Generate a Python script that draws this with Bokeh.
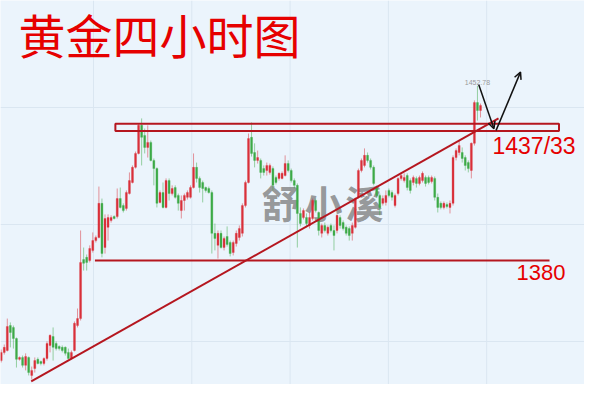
import numpy as np
from bokeh.plotting import figure
from bokeh.models import Range1d, Span, Label, Arrow, OpenHead, ColumnDataSource
from bokeh.embed import file_html
from bokeh.resources import INLINE

# ---- candle data (gold, 4h) ----
opens = [
    1338.3, 1341.7, 1342.5, 1352.9, 1352.1, 1347.5, 1338.8, 1339.6, 1336.3, 1339.6,
    1332.1, 1335.0, 1338.8, 1337.9, 1337.1, 1339.2, 1344.6, 1348.3, 1345.4, 1344.2,
    1343.8, 1343.8, 1341.7, 1339.2, 1342.5, 1352.9, 1355.8, 1380.4, 1381.3, 1380.0,
    1384.2, 1388.3, 1389.6, 1403.8, 1385.4, 1393.8, 1396.7, 1398.3, 1398.3, 1405.8,
    1402.9, 1401.7, 1407.9, 1412.5, 1418.8, 1424.6, 1436.3, 1432.1, 1427.1, 1429.2,
    1421.7, 1418.3, 1404.2, 1408.3, 1402.1, 1413.3, 1407.9, 1410.4, 1407.1, 1400.8,
    1405.0, 1406.3, 1406.3, 1410.4, 1418.8, 1414.2, 1412.5, 1410.4, 1410.0, 1408.3,
    1391.3, 1386.3, 1391.3, 1385.4, 1390.0, 1387.5, 1383.3, 1387.1, 1389.6, 1391.3,
    1402.9, 1412.5, 1431.3, 1425.0, 1421.7, 1421.7, 1418.3,
    1417.5, 1416.7, 1418.3, 1414.6, 1414.2, 1414.2, 1415.4, 1420.4, 1417.5, 1413.3,
    1411.3, 1399.6, 1397.9, 1397.9, 1394.6, 1397.5, 1405.0,
    1400.0, 1391.3, 1394.6, 1391.3, 1394.6, 1392.5, 1392.5, 1397.9, 1395.8, 1393.8,
    1393.3, 1391.3, 1393.8, 1406.3, 1417.5, 1419.6, 1423.8,
    1421.7, 1418.8, 1410.4, 1407.1, 1403.8, 1404.2, 1409.2, 1408.3, 1402.9, 1407.9,
    1414.2, 1413.3, 1415.4, 1413.3, 1412.5, 1414.2, 1412.1, 1413.3, 1414.6, 1414.6,
    1412.9, 1414.2, 1406.3, 1403.8, 1402.1, 1403.3, 1402.1, 1403.8, 1422.9, 1425.0,
    1425.0, 1422.9, 1420.8, 1417.5, 1428.8, 1445.8, 1442.5,
]
highs = [
    1342.9, 1345.0, 1355.8, 1354.2, 1352.9, 1347.9, 1340.0, 1340.4, 1341.3, 1340.0,
    1335.8, 1339.6, 1339.6, 1338.3, 1339.6, 1346.3, 1349.2, 1352.1, 1346.3, 1344.6,
    1344.6, 1344.2, 1343.3, 1342.5, 1354.6, 1360.0, 1392.5, 1385.4, 1382.5, 1386.3,
    1391.7, 1390.4, 1410.8, 1405.8, 1399.2, 1399.2, 1398.8, 1398.8, 1410.0, 1410.4,
    1403.8, 1409.2, 1416.7, 1419.6, 1425.4, 1437.0, 1439.2, 1435.0, 1436.3, 1430.0,
    1422.5, 1418.8, 1409.2, 1412.5, 1414.2, 1414.2, 1411.3, 1411.3, 1407.9, 1407.1,
    1407.9, 1409.2, 1411.3, 1424.6, 1420.8, 1415.0, 1413.3, 1410.8, 1410.8, 1409.2,
    1395.4, 1392.5, 1392.5, 1390.0, 1394.2, 1388.3, 1388.3, 1392.5, 1394.6, 1403.8,
    1413.3, 1432.9, 1437.5, 1428.8, 1425.8, 1422.5, 1419.6,
    1420.8, 1420.4, 1419.2, 1415.4, 1416.7, 1417.1, 1423.8, 1421.7, 1418.3, 1414.2,
    1412.1, 1402.1, 1401.7, 1399.6, 1400.0, 1405.8, 1405.8,
    1400.4, 1395.4, 1395.8, 1394.6, 1395.4, 1394.6, 1399.2, 1398.8, 1396.7, 1394.6,
    1394.2, 1395.8, 1406.3, 1418.3, 1422.5, 1426.7, 1425.0,
    1422.5, 1419.6, 1411.3, 1407.9, 1407.1, 1409.2, 1410.0, 1409.2, 1407.9, 1414.6,
    1416.7, 1416.3, 1416.3, 1414.2, 1415.4, 1415.0, 1415.4, 1417.1, 1415.4, 1415.4,
    1415.4, 1415.0, 1407.9, 1404.6, 1404.6, 1404.2, 1405.0, 1423.8, 1426.7, 1430.0,
    1427.1, 1423.8, 1421.7, 1429.2, 1446.7, 1452.78, 1445.4,
]
lows = [
    1337.5, 1340.8, 1342.1, 1343.8, 1343.3, 1335.4, 1338.3, 1335.4, 1334.2, 1332.1,
    1330.4, 1333.3, 1336.7, 1336.3, 1336.3, 1338.3, 1341.7, 1338.3, 1342.5, 1342.5,
    1341.7, 1340.4, 1338.8, 1338.8, 1342.1, 1352.1, 1355.0, 1375.8, 1375.8, 1379.2,
    1383.3, 1387.5, 1389.2, 1381.3, 1382.9, 1388.3, 1395.8, 1397.1, 1397.5, 1401.7,
    1400.0, 1400.8, 1407.5, 1412.1, 1418.3, 1424.2, 1419.6, 1424.6, 1422.9, 1421.3,
    1411.3, 1402.1, 1403.8, 1401.7, 1401.7, 1405.0, 1407.1, 1405.8, 1400.8, 1397.5,
    1400.8, 1405.4, 1405.8, 1410.0, 1412.5, 1408.3, 1404.2, 1408.3, 1407.9, 1382.9,
    1384.2, 1380.8, 1385.0, 1384.2, 1385.8, 1381.7, 1382.1, 1385.8, 1388.3, 1390.0,
    1402.1, 1412.1, 1423.3, 1418.8, 1420.4, 1414.2, 1415.4,
    1415.4, 1415.8, 1409.2, 1411.7, 1413.3, 1413.8, 1415.0, 1416.7, 1412.5, 1410.0,
    1385.4, 1394.2, 1397.1, 1393.8, 1393.3, 1396.7, 1400.0,
    1390.4, 1389.6, 1391.7, 1390.4, 1391.7, 1384.2, 1391.3, 1393.3, 1392.5, 1390.4,
    1388.3, 1388.3, 1393.3, 1405.8, 1416.7, 1418.8, 1420.8,
    1417.9, 1411.3, 1406.3, 1398.8, 1402.9, 1402.9, 1406.3, 1405.0, 1402.1, 1407.1,
    1413.3, 1412.5, 1409.2, 1407.9, 1411.3, 1410.4, 1411.3, 1412.5, 1410.8, 1411.7,
    1412.1, 1405.0, 1400.0, 1401.3, 1401.3, 1401.7, 1399.6, 1402.9, 1421.7, 1423.8,
    1420.8, 1417.5, 1416.7, 1414.2, 1427.9, 1438.3, 1439.6,
]
closes = [
    1341.7, 1343.8, 1352.5, 1350.0, 1347.5, 1338.8, 1339.6, 1336.3, 1340.0, 1333.3,
    1334.2, 1338.3, 1337.1, 1337.1, 1339.2, 1345.4, 1348.8, 1343.8, 1343.3, 1343.3,
    1342.5, 1341.3, 1339.2, 1341.7, 1353.8, 1355.8, 1379.2, 1378.8, 1379.2, 1385.0,
    1388.3, 1389.6, 1403.8, 1382.9, 1397.5, 1397.9, 1397.9, 1397.5, 1405.8, 1402.1,
    1400.8, 1408.3, 1413.3, 1418.8, 1424.6, 1436.3, 1431.3, 1427.1, 1429.2, 1421.7,
    1418.3, 1403.8, 1408.3, 1402.1, 1413.3, 1407.9, 1410.0, 1406.3, 1403.8, 1405.0,
    1407.1, 1408.3, 1410.4, 1418.8, 1414.2, 1410.4, 1410.0, 1409.2, 1408.3, 1391.3,
    1389.2, 1391.3, 1385.4, 1389.2, 1386.7, 1382.9, 1387.5, 1391.3, 1393.3, 1402.9,
    1412.5, 1430.8, 1424.6, 1421.7, 1422.9, 1416.7, 1416.7,
    1419.6, 1419.6, 1411.3, 1412.5, 1416.3, 1416.3, 1420.4, 1417.5, 1413.3, 1411.3,
    1399.6, 1395.4, 1400.8, 1395.4, 1397.9, 1405.0, 1400.8,
    1392.5, 1394.6, 1392.5, 1393.8, 1392.5, 1390.4, 1398.8, 1394.6, 1393.3, 1391.3,
    1390.4, 1394.6, 1405.8, 1417.5, 1421.7, 1423.8, 1421.7,
    1418.8, 1412.1, 1407.1, 1402.1, 1405.8, 1407.1, 1407.1, 1406.3, 1407.1, 1414.2,
    1415.4, 1414.6, 1410.4, 1409.2, 1414.6, 1412.1, 1414.6, 1416.3, 1412.1, 1412.5,
    1414.6, 1406.3, 1402.1, 1402.1, 1403.8, 1402.5, 1403.8, 1422.9, 1425.8, 1427.9,
    1422.5, 1419.6, 1418.3, 1428.8, 1445.8, 1442.5, 1444.6,
]

# ---- drawn analysis (price levels / bar indices) ----
zone_top, zone_bottom = 1437.0, 1434.0
zone_x = [37.4, 182.7]
support_level = 1380.0
support_x = [30.7, 179.6]
trend_x = [9.83, 162.9]
trend_y = [1329.6, 1439.2]
arrow_down = [156.4, 1453.3, 161.4, 1434.9]
arrow_up = [162.1, 1434.2, 170.1, 1458.5]
peak_idx, peak_price = 156, 1452.78
grid_x = [30.23, 62.43, 94.62, 126.82, 159.02, 191.22]
grid_y = [1443.75, 1395.0, 1346.25]

n = len(opens)
idx = np.arange(n)
o = np.array(opens); c = np.array(closes); h = np.array(highs); l = np.array(lows)
up = c >= o
RED = "#d9303a"
GREEN = "#3daa47"
cols = [RED if u else GREEN for u in up]

src = ColumnDataSource(dict(x=idx, o=o, c=c, h=h, l=l,
                            top=np.maximum(o, c), bottom=np.minimum(o, c), col=cols))

BG = "#ebf4fc"
p = figure(width=584, height=384, x_range=Range1d(-0.23, 191.06), y_range=Range1d(1328.33, 1488.33),
           x_axis_type=None, y_axis_type=None, output_backend="svg", toolbar_location=None,
           min_border=0, background_fill_color=BG, border_fill_color=BG)
p.outline_line_color = None

for gx in grid_x:
    p.add_layout(Span(location=gx, dimension="height", line_color="#dae6f1", line_width=1, level="underlay"))
for gy in grid_y:
    p.add_layout(Span(location=gy, dimension="width", line_color="#dae6f1", line_width=1, level="underlay"))

# watermark
for ch, cx in zip("舒小溪", [280, 323, 364]):
    p.add_layout(Label(x=cx, y=183, x_units="screen", y_units="screen", text=ch,
                       text_font="Noto Sans CJK SC", text_font_size="38px", text_font_style="bold",
                       text_color="#808080", text_alpha=0.8, text_align="center",
                       text_baseline="middle", level="underlay"))

p.segment(x0="x", y0="h", x1="x", y1="l", color="col", line_alpha=0.5, line_width=1, source=src)
p.vbar(x="x", width=0.65, top="top", bottom="bottom", fill_color="col", line_color="col",
       line_width=0.3, source=src)

LINE = "#b5161f"
# resistance zone rectangle
p.quad(left=[zone_x[0]], right=[zone_x[1]], top=[zone_top], bottom=[zone_bottom],
       fill_color=None, line_color=LINE, line_width=2)
# support line
p.line(support_x, [support_level, support_level], line_color=LINE, line_width=2)
# trend line
p.line(trend_x, trend_y, line_color=LINE, line_width=2)

# arrows
for a in (arrow_down, arrow_up):
    p.add_layout(Arrow(end=OpenHead(size=7, line_width=1.5, line_color="#111111"),
                       x_start=a[0], y_start=a[1], x_end=a[2], y_end=a[3],
                       line_width=1.5, line_color="#111111"))

p.add_layout(Label(x=peak_idx, y=peak_price, text=f"{peak_price:.2f}", text_font="Liberation Sans",
                   text_font_size="7px", text_color="#9a9a9a", text_align="center",
                   text_baseline="bottom", y_offset=1))

# texts
p.add_layout(Label(x=18, y=351, x_units="screen", y_units="screen", text="黄金四小时图",
                   text_font="Noto Sans CJK SC", text_font_size="47px", text_color="#e60000",
                   text_baseline="middle"))
p.add_layout(Label(x=492, y=239, x_units="screen", y_units="screen", text="1437/33",
                   text_font="Liberation Sans", text_font_size="23px", text_color="#e60000",
                   text_baseline="middle"))
p.add_layout(Label(x=516, y=112, x_units="screen", y_units="screen", text="1380",
                   text_font="Liberation Sans", text_font_size="22px", text_color="#e60000",
                   text_baseline="middle"))

open("out.html", "w").write(file_html(p, INLINE))
